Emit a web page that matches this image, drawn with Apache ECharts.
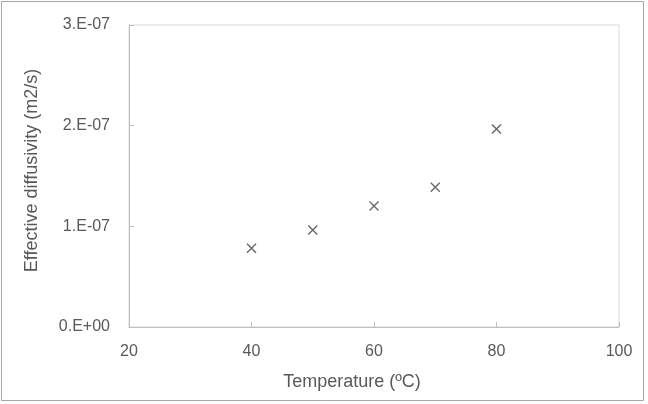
<!DOCTYPE html>
<html>
<head>
<meta charset="utf-8">
<script src="https://cdn.jsdelivr.net/npm/echarts@6/dist/echarts.min.js"></script>
<style>html,body{margin:0;padding:0;background:#fff}#c{width:648px;height:404px}</style>
</head>
<body>
<div id="c"></div>
<script>
var temperatures = [40, 50, 60, 70, 80];
var diffusivity = [0.782e-7, 0.964e-7, 1.202e-7, 1.388e-7, 1.967e-7];
var yTickLabels = ['0.E+00', '1.E-07', '2.E-07', '3.E-07'];
var xTitle = 'Temperature (ºC)';
var yTitle = 'Effective diffusivity (m2/s)';

var chart = echarts.init(document.getElementById('c'), null, {renderer: 'canvas'});
var font = 'Liberation Sans';
chart.setOption({
  animation: false,
  backgroundColor: '#ffffff',
  graphic: [{
    type: 'rect', shape: {x: 1.5, y: 1.5, width: 642, height: 399},
    style: {fill: 'none', stroke: '#a6a6a6', lineWidth: 1}, silent: true
  }],
  grid: {left: 129, top: 25, right: 29, bottom: 77, show: true, borderColor: '#d9d9d9', borderWidth: 1},
  xAxis: {
    type: 'value', min: 20, max: 100, interval: 20,
    name: xTitle, nameLocation: 'middle', nameGap: 46,
    nameTextStyle: {fontFamily: font, fontSize: 18, color: '#595959', padding: [0, 44, 0, 0]},
    axisLine: {show: true, lineStyle: {color: '#bfbfbf', width: 1}},
    axisTick: {show: true, inside: true, length: 5, lineStyle: {color: '#bfbfbf'}},
    axisLabel: {fontFamily: font, fontSize: 16, color: '#595959', margin: 17},
    splitLine: {show: false}
  },
  yAxis: {
    type: 'value', min: 0, max: 3e-7, interval: 1e-7,
    name: yTitle, nameLocation: 'middle', nameGap: 88,
    nameTextStyle: {fontFamily: font, fontSize: 18, color: '#595959', padding: [0, 0, 0, 11]},
    axisLine: {show: true, lineStyle: {color: '#bfbfbf', width: 1}},
    axisTick: {show: true, inside: true, length: 5, lineStyle: {color: '#bfbfbf'}},
    axisLabel: {fontFamily: font, fontSize: 16, color: '#595959', margin: 19,
      formatter: function (v) { return yTickLabels[Math.round(v / 1e-7)]; }},
    splitLine: {show: false}
  },
  series: [{
    type: 'scatter',
    data: temperatures.map(function (t, i) { return [t, diffusivity[i]]; }),
    symbol: 'path://M0,0L10,10M10,0L0,10',
    symbolSize: 9,
    itemStyle: {color: 'rgba(0,0,0,0)', borderColor: '#404040', borderWidth: 1.4}
  }]
});
</script>
</body>
</html>
